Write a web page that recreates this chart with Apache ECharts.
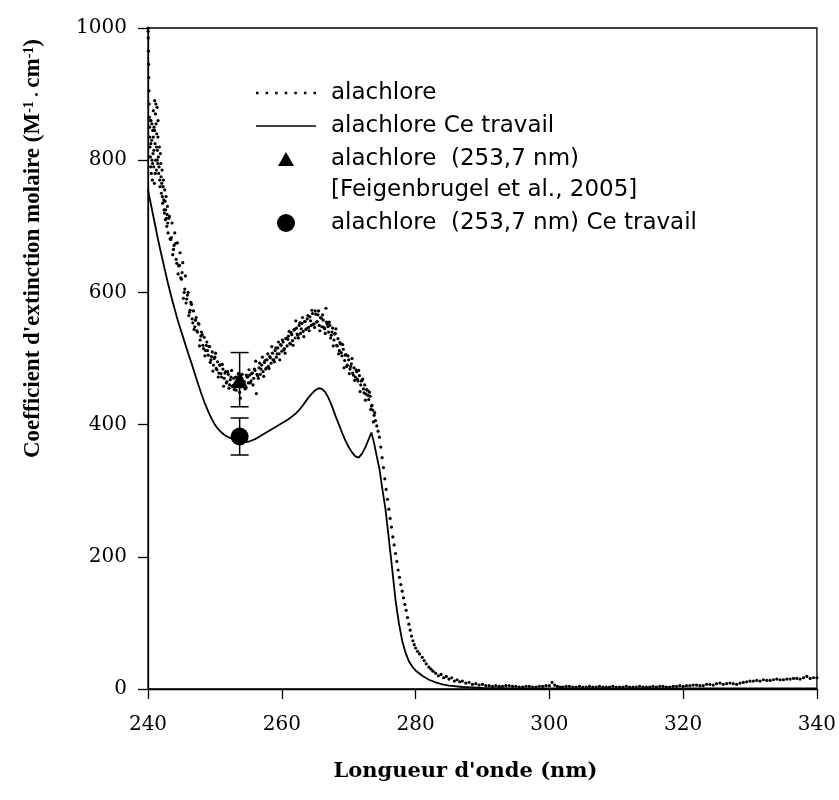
<!DOCTYPE html>
<html>
<head>
<meta charset="utf-8">
<script src="https://cdn.jsdelivr.net/npm/echarts@6/dist/echarts.min.js"></script>
<style>
  html, body { margin: 0; padding: 0; background: #fff; }
  #chart { width: 839px; height: 800px; }
</style>
</head>
<body>
<div id="chart"></div>
<script>
// ---------- data ----------
const xRange = { min: 240, max: 340, step: 20 };
const yRange = { min: 0, max: 1000, step: 200 };

// dotted spectrum (literature) : [wavelength nm, epsilon] — first pass of readings
const dottedSpectrum = [
  [240.0,1000],[240.03,985],[240.06,965],[240.09,945],[240.12,925],[240.15,905],[240.18,885],[240.21,865],
  [240.24,850],[240.27,835],[240.3,820],[240.35,805],[240.4,790],[240.45,860],[240.5,780],[240.55,830],
  [240.6,800],[240.65,770],[240.7,845],[240.75,810],[240.8,875],[240.85,790],[240.9,850],[240.95,765],
  [241.0,890],[241.05,825],[241.1,870],[241.15,800],[241.2,855],[241.25,785],[241.3,840],[241.35,880],
  [241.4,815],[241.45,795],[241.5,860],[241.6,780],[241.7,820],[241.8,760],[241.9,795],[242.0,750],
  [242.1,785],[242.2,735],[242.3,770],[242.4,725],[242.5,755],[242.6,710],[242.7,745],[242.8,700],
  [242.9,730],[243.0,690],[243.2,715],[243.4,680],[243.6,705],[243.8,665],[244.0,690],[244.2,650],
  [244.4,675],[244.6,640],[244.8,660],[245.0,620],[245.2,645],[245.4,600],[245.6,625],[245.8,590],
  [246.0,600],[246.2,570],[246.4,585],[246.6,560],[246.8,572],[247.0,548],[247.2,562],[247.4,540],
  [247.6,552],[247.8,528],[248.0,540],[248.2,520],[248.4,532],[248.6,512],[248.8,525],[249.0,505],
  [249.2,518],[249.4,498],[249.6,510],[249.8,490],[250.0,502],[250.2,485],[250.4,495],[250.6,478],
  [250.8,490],[251.0,472],[251.2,484],[251.4,470],[251.6,480],[251.8,465],[252.0,476],[252.2,460],
  [252.4,472],[252.6,458],[252.8,470],[253.0,462],[253.2,452],[253.4,468],[253.6,458],[253.8,440],
  [254.0,470],[254.2,458],[254.4,465],[254.6,455],[254.8,472],[255.0,463],[255.2,475],[255.4,466],
  [255.6,478],[255.8,470],[256.0,482],[256.2,447],[256.4,474],[256.6,486],[256.8,476],[257.0,490],
  [257.2,480],[257.4,494],[257.6,484],[257.8,498],[258.0,488],[258.2,503],[258.4,493],[258.6,508],
  [258.8,498],[259.0,512],[259.2,502],[259.4,516],[259.6,507],[259.8,521],[260.0,511],[260.2,525],
  [260.4,515],[260.6,530],[260.8,519],[261.0,534],[261.2,523],[261.4,539],[261.6,527],[261.8,543],
  [262.0,531],[262.2,546],[262.4,535],[262.6,550],[262.8,538],[263.0,553],[263.2,541],[263.4,556],
  [263.6,544],[263.8,560],[264.0,547],[264.2,563],[264.4,550],[264.6,568],[264.8,552],[265.0,572],
  [265.2,555],[265.4,566],[265.6,550],[265.8,562],[266.0,548],[266.2,558],[266.4,545],[266.6,576],
  [266.8,552],[267.0,540],[267.2,550],[267.4,535],[267.6,546],[267.8,528],[268.0,538],[268.2,520],
  [268.4,530],[268.6,512],[268.8,522],[269.0,504],[269.2,514],[269.4,497],[269.6,506],[269.8,490],
  [270.0,498],[270.2,484],[270.4,492],[270.6,478],[270.8,486],[271.0,472],[271.2,480],[271.4,466],
  [271.6,474],[271.8,460],[272.0,467],[272.2,454],[272.4,460],[272.6,446],[272.8,452],[273.0,438],
  [273.2,443],[273.4,428],[273.6,422],[273.8,414],[274.0,406],[274.2,398],[274.4,390],[274.6,381],
  [274.8,366],[275.0,350],[275.2,335],[275.4,318],[275.6,302],[275.8,287],[276.0,272],[276.2,258],
  [276.4,245],[276.6,230],[276.8,218],[277.0,205],[277.2,193],[277.4,180],[277.6,169],[277.8,158],
  [278.0,148],[278.2,138],[278.4,128],[278.6,119],[278.8,108],[279.0,98],[279.2,89],[279.4,80],
  [279.6,73],[279.8,67],[280.0,62],[280.3,57],[280.6,53],[281.0,48],[281.3,43],[281.6,38],
  [282.0,33],[282.3,30],[282.6,27],[283.0,24],[283.4,20],[283.8,22],[284.2,17],[284.6,19],
  [285.0,15],[285.4,17],[285.8,12],[286.2,14],[286.6,11],[287.0,12],[287.5,9],[288.0,10],
  [288.5,7],[289.0,8],[289.5,6],[290.0,7],[290.5,5],[291.0,5],[291.5,4],[292.0,5],
  [292.5,4],[293.0,4],[293.5,5],[294.0,5],[294.5,4],[295.0,4],[295.5,3],[296.0,3],
  [296.5,4],[297.0,4],[297.5,3],[298.0,3],[298.5,4],[299.0,4],[299.5,5],[300.0,5],
  [300.4,10],[300.8,6],[301.2,4],[301.6,3],[302.0,3],[302.5,4],[303.0,4],[303.5,3],
  [304.0,3],[304.5,4],[305.0,3],[305.5,3],[306.0,4],[306.5,3],[307.0,3],[307.5,4],
  [308.0,3],[308.5,3],[309.0,3],[309.5,4],[310.0,3],[310.5,3],[311.0,3],[311.5,4],
  [312.0,3],[312.5,3],[313.0,3],[313.5,4],[314.0,3],[314.5,3],[315.0,3],[315.5,4],
  [316.0,3],[316.5,4],[317.0,4],[317.5,3],[318.0,3],[318.5,4],[319.0,4],[319.5,5],
  [320.0,4],[320.5,5],[321.0,5],[321.5,6],[322.0,6],[322.5,5],[323.0,5],[323.5,7],
  [324.0,7],[324.5,6],[325.0,8],[325.5,9],[326.0,7],[326.5,8],[327.0,9],[327.5,8],
  [328.0,7],[328.5,9],[329.0,10],[329.5,11],[330.0,12],[330.5,12],[331.0,13],[331.5,12],
  [332.0,14],[332.5,13],[333.0,13],[333.5,14],[334.0,15],[334.5,14],[335.0,14],[335.5,15],
  [336.0,15],[336.5,16],[337.0,16],[337.5,15],[338.0,17],[338.5,19],[339.0,16],[339.5,17],
  [340.0,17]
];

// dotted spectrum — second pass of readings (the scatter cloud between 240 and 274 nm)
const dottedSpectrumCloud = [
  [240.02,995],[240.33,860],[240.42,825],[240.58,855],[240.68,795],[240.78,835],[240.88,815],[240.98,845],
  [241.08,780],[241.18,885],[241.28,820],[241.38,800],[241.48,835],[241.55,805],[241.65,790],[241.75,770],
  [241.85,810],[241.95,775],[242.05,765],[242.15,745],[242.25,760],[242.35,740],[242.45,720],[242.55,738],
  [242.65,725],[242.75,712],[242.85,718],[242.95,705],
  [243.1,712],[243.3,681],[243.5,683],[243.7,657],[243.9,671],[244.1,674],[244.3,644],[244.5,628],
  [244.7,641],[244.9,622],[245.1,630],[245.3,591],[245.5,605],[245.7,584],[245.9,596],[246.1,565],
  [246.3,573],[246.5,582],[246.7,554],[246.9,544],[247.1,558],[247.3,542],[247.5,553],[247.7,519],
  [247.9,534],[248.1,536],[248.3,515],[248.5,504],[248.7,520],[248.9,512],[249.1,518],[249.3,494],
  [249.5,503],[249.7,481],[249.9,500],[250.1,508],[250.3,483],[250.5,472],[250.7,490],[250.9,477],
  [251.1,491],[251.3,458],[251.5,478],[251.7,463],[251.9,480],[252.1,455],[252.3,468],[252.5,482],
  [252.7,459],[252.9,453],[253.1,472],[253.3,461],[253.5,477],[253.7,449],[253.9,469],[254.1,476],
  [254.3,460],[254.5,454],[254.7,475],[254.9,472],[255.1,483],[255.3,463],[255.5,477],[255.7,460],
  [255.9,484],[256.1,496],[256.3,476],[256.5,470],[256.7,493],[256.9,484],[257.1,502],[257.3,473],
  [257.5,497],[257.7,486],[257.9,507],[258.1,485],[258.3,501],[258.5,518],[258.7,498],[258.9,495],
  [259.1,516],[259.3,507],[259.5,525],[259.7,498],[259.9,520],[260.1,528],[260.3,513],[260.5,508],
  [260.7,531],[260.9,529],[261.1,541],[261.3,522],[261.5,536],[261.7,520],[261.9,544],[262.1,557],
  [262.3,537],[262.5,531],[262.7,554],[262.9,545],[263.1,562],[263.3,533],[263.5,556],[263.7,545],
  [263.9,565],[264.1,542],[264.3,557],[264.5,573],[264.7,552],[264.9,547],[265.1,567],[265.3,556],
  [265.5,572],[265.7,542],[265.9,561],[266.1,566],[266.3,547],[266.5,538],[266.7,555],[266.9,548],
  [267.1,555],[267.3,531],[267.5,540],[267.7,519],[267.9,537],[268.1,545],[268.3,519],[268.5,507],
  [268.7,524],[268.9,509],[269.1,521],[269.3,486],[269.5,505],[269.7,488],[269.9,504],[270.1,477],
  [270.3,488],[270.5,500],[270.7,475],[270.9,467],[271.1,483],[271.3,469],[271.5,482],[271.7,450],
  [271.9,466],[272.1,469],[272.3,448],[272.5,437],[272.7,453],[272.9,444],[273.1,449],[273.3,423],
  [273.5,429],[273.7,404],[273.9,418]
];

// solid spectrum (this work)
const solidX = [240,240.5,241,241.5,242,242.5,243,243.5,244,244.5,
  245,245.5,246,246.5,247,247.5,248,248.5,249,249.5,
  250,250.5,251,251.5,252,252.5,253,253.5,254,254.5,
  255,255.5,256,256.5,257,257.5,258,258.5,259,259.5,
  260,260.5,261,261.5,262,262.5,263,263.5,264,264.5,
  265,265.5,266,266.5,267,267.5,268,268.5,269,269.5,
  270,270.5,271,271.5,272,272.5,273,273.4,273.8,274.2,274.6,
  275,275.5,276,276.5,277,277.5,278,278.5,279,279.5,280,
  281,282,283,284,285,287,290,295,300,310,320,330,340];
const solidY = [755,730,705,680,657,635,613,593,574,556,
  540,524,508,493,477,461,446,432,420,409,
  400,393,388,384,381,379,377,376,375,374,
  374,376,378,381,384,387,390,393,396,399,
  402,405,408,412,416,421,427,434,441,447,
  452,455,454,449,440,428,414,401,388,376,
  366,358,352,350,356,366,378,388,372,352,333,
  305,272,228,182,135,100,73,55,42,34,28,
  20,14,10,7,5,3,1.5,1,1,1,1,1,1];

// single-wavelength points with error bars: [wavelength, epsilon, error]
const pointLiterature = [253.7, 468, 41];
const pointThisWork   = [253.7, 382, 28];

const seriesNames = [
  'alachlore',
  'alachlore Ce travail',
  'alachlore  (253,7 nm)',
  'alachlore  (253,7 nm) Ce travail'
];
const referenceNote = '[Feigenbrugel et al., 2005]';
const xTitle = "Longueur d'onde (nm)";

// ---------- chart ----------
const solidData = solidX.map((x, i) => [x, solidY[i]]);
const dottedData = dottedSpectrum.concat(dottedSpectrumCloud);

const serif = "'DejaVu Serif', 'Liberation Serif', serif";
const sans = "'DejaVu Sans', 'Liberation Sans', sans-serif";

let dotIcon = 'path://';
for (let i = 0; i < 7; i++) dotIcon += 'M' + (i * 10) + ',0h2.6v2.6h-2.6z';
const lineIcon = 'path://M0,0H60V1.6H0Z';
const triIcon = 'path://M8,0L16,14L0,14Z';
const circIcon = 'path://M0,9A9,9,0,1,1,18,9A9,9,0,1,1,0,9Z';

function errorBar(params, api) {
  const x = api.value(0), y = api.value(1), e = api.value(2);
  const top = api.coord([x, y + e]);
  const bot = api.coord([x, y - e]);
  const hw = 9;
  const st = { stroke: '#000', lineWidth: 1.5 };
  return {
    type: 'group',
    children: [
      { type: 'line', shape: { x1: top[0], y1: top[1], x2: bot[0], y2: bot[1] }, style: st },
      { type: 'line', shape: { x1: top[0] - hw, y1: top[1], x2: top[0] + hw, y2: top[1] }, style: st },
      { type: 'line', shape: { x1: bot[0] - hw, y1: bot[1], x2: bot[0] + hw, y2: bot[1] }, style: st }
    ]
  };
}

function legendText() {
  return { fontFamily: sans, fontSize: 23, color: '#000', lineHeight: 24, padding: [0, 0, 0, 10] };
}
const numLabel = v => String(v);

const option = {
  animation: false,
  backgroundColor: '#fff',
  grid: { left: 148, right: 21, top: 28, bottom: 111, show: true, borderColor: '#000', borderWidth: 1.3, backgroundColor: 'transparent' },
  xAxis: {
    type: 'value', min: xRange.min, max: xRange.max, interval: xRange.step,
    axisLine: { lineStyle: { color: '#000', width: 1.3 } },
    axisTick: { length: 10, lineStyle: { color: '#000', width: 1.3 } },
    axisLabel: { color: '#000', fontFamily: serif, fontSize: 20, margin: 26, formatter: numLabel },
    splitLine: { show: false },
    name: xTitle, nameLocation: 'middle', nameGap: 72,
    nameTextStyle: { color: '#000', fontFamily: serif, fontWeight: 'bold', fontSize: 21, padding: [0, 34, 0, 0] }
  },
  yAxis: {
    type: 'value', min: yRange.min, max: yRange.max, interval: yRange.step,
    axisLine: { lineStyle: { color: '#000', width: 1.3 } },
    axisTick: { length: 10, lineStyle: { color: '#000', width: 1.3 } },
    axisLabel: { color: '#000', fontFamily: serif, fontSize: 20, margin: 21, formatter: numLabel },
    splitLine: { show: false },
    name: "Coefficient d'extinction molaire (M{sup|-1}{dot| . }cm{sup|-1})",
    nameLocation: 'middle', nameGap: 103,
    nameTextStyle: {
      color: '#000', fontFamily: "'Liberation Serif', 'Times New Roman', serif", fontWeight: 'bold', fontSize: 23,
      padding: [0, 0, 0, 220],
      rich: {
        sup: { fontFamily: "'Liberation Serif', serif", fontWeight: 'bold', fontSize: 14, color: '#000', verticalAlign: 'top' },
        dot: { fontFamily: "'Liberation Serif', serif", fontWeight: 'bold', fontSize: 18, color: '#000' }
      }
    }
  },
  legend: [
    {
      orient: 'vertical', left: 256, top: 81, padding: 0, itemWidth: 60, itemHeight: 14, itemGap: 9,
      selectedMode: false, textStyle: legendText(),
      data: [
        { name: seriesNames[0], icon: dotIcon },
        { name: seriesNames[1], icon: lineIcon },
        { name: seriesNames[2], icon: triIcon }
      ]
    },
    {
      // content box starts at the circle icon, which sits centred in the 60px icon slot
      orient: 'vertical', left: 277, top: 211, padding: 0, itemWidth: 60, itemHeight: 18,
      selectedMode: false, textStyle: legendText(),
      data: [{ name: seriesNames[3], icon: circIcon }]
    }
  ],
  graphic: [
    { type: 'text', left: 331, top: 179, style: { text: referenceNote, fontFamily: sans, fontSize: 23, fill: '#000' } }
  ],
  series: [
    {
      name: seriesNames[0], type: 'scatter', data: dottedData,
      symbol: 'circle', symbolSize: 3.2, itemStyle: { color: '#000', opacity: 1 }, z: 2
    },
    {
      name: seriesNames[1], type: 'line', data: solidData, showSymbol: false, symbol: 'none',
      lineStyle: { color: '#000', width: 1.8 }, itemStyle: { color: '#000' }, z: 3
    },
    {
      type: 'custom', renderItem: errorBar, data: [pointLiterature, pointThisWork], z: 4, silent: true
    },
    {
      name: seriesNames[2], type: 'scatter', data: [[pointLiterature[0], pointLiterature[1]]],
      symbol: 'triangle', symbolSize: 17, itemStyle: { color: '#000', opacity: 1 }, z: 5
    },
    {
      name: seriesNames[3], type: 'scatter', data: [[pointThisWork[0], pointThisWork[1]]],
      symbol: 'circle', symbolSize: 18, itemStyle: { color: '#000', opacity: 1 }, z: 5
    }
  ]
};

const chart = echarts.init(document.getElementById('chart'), null, { renderer: 'canvas' });
chart.setOption(option);
</script>
</body>
</html>
